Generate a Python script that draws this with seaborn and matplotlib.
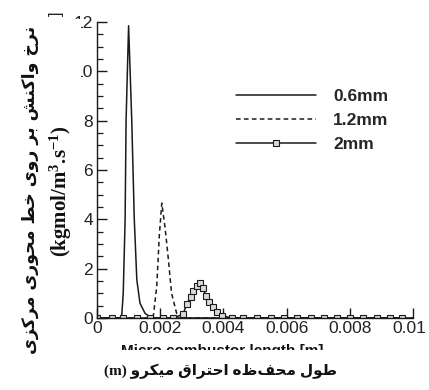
import numpy as np
import pandas as pd
import matplotlib
matplotlib.use("Agg")
import matplotlib.pyplot as plt
import matplotlib.transforms as mtransforms
from matplotlib.patches import Rectangle
from matplotlib.ticker import MultipleLocator, FixedLocator
import seaborn as sns

# ---- data: reaction rate along the combustor axis ----
x_06 = [0.0, 0.0007, 0.00078, 0.00083, 0.00089, 0.00092, 0.00100, 0.00110,
        0.00118, 0.00126, 0.00136, 0.00152, 0.00168, 0.0019, 0.01]
y_06 = [0.0, 0.0, 0.05, 1.0, 4.0, 8.0, 11.85, 8.0,
        4.0, 1.55, 0.6, 0.19, 0.04, 0.0, 0.0]

x_12 = [0.0, 0.0017, 0.00178, 0.00189, 0.00197, 0.00205, 0.00215, 0.00226,
        0.00236, 0.00252, 0.0028, 0.01]
y_12 = [0.0, 0.0, 0.05, 1.27, 3.3, 4.66, 3.71, 2.36,
        1.0, 0.19, 0.0, 0.0]

x_20 = [0.0, 0.00046, 0.00083, 0.00127, 0.00168, 0.00208, 0.00241, 0.00272,
        0.00284, 0.00296, 0.00305, 0.00315, 0.00326, 0.00336, 0.00345, 0.00355,
        0.00366, 0.00379, 0.00395, 0.00426, 0.00462, 0.00505, 0.0055, 0.00593,
        0.00632, 0.00676, 0.00718, 0.00759, 0.008, 0.00842, 0.00886, 0.00927,
        0.00964]
y_20 = [0.0, 0.0, 0.0, 0.0, 0.0, 0.0, 0.0, 0.15,
        0.55, 0.85, 1.1, 1.3, 1.42, 1.2, 0.88, 0.64,
        0.44, 0.25, 0.1, 0.0, 0.0, 0.0, 0.0, 0.0,
        0.0, 0.0, 0.0, 0.0, 0.0, 0.0, 0.0, 0.0,
        0.0]

series_labels = ["0.6mm", "1.2mm", "2mm"]
x_ticks = [0, 0.002, 0.004, 0.006, 0.008, 0.01]
x_tick_labels = ["0", "0.002", "0.004", "0.006", "0.008", "0.01"]
y_ticks = [0, 2, 4, 6, 8, 10, 12]
y_tick_labels = ["0", "2", "4", "6", "8", "10", "12"]

ylabel_fa = "نرخ واکنش بر روی خط محوری مرکزی"
ylabel_unit = r"(kgmol/m$^{\mathbf{3}}$.s$^{\mathbf{-1}}$)"
xlabel_en = "Micro combustor length [m]"
xlabel_fa = "طول محفظه احتراق میکرو"
xlabel_unit = "(m)"

# ---- minimal Persian shaping (presentation forms) + RTL ordering ----
FORMS = {  # isolated, final, initial, medial
    "ا": (0xFE8D, 0xFE8E, None, None),
    "ب": (0xFE8F, 0xFE90, 0xFE91, 0xFE92),
    "ت": (0xFE95, 0xFE96, 0xFE97, 0xFE98),
    "ح": (0xFEA1, 0xFEA2, 0xFEA3, 0xFEA4),
    "خ": (0xFEA5, 0xFEA6, 0xFEA7, 0xFEA8),
    "ر": (0xFEAD, 0xFEAE, None, None),
    "ز": (0xFEAF, 0xFEB0, None, None),
    "ش": (0xFEB5, 0xFEB6, 0xFEB7, 0xFEB8),
    "ط": (0xFEC1, 0xFEC2, 0xFEC3, 0xFEC4),
    "ف": (0xFED1, 0xFED2, 0xFED3, 0xFED4),
    "ق": (0xFED5, 0xFED6, 0xFED7, 0xFED8),
    "ل": (0xFEDD, 0xFEDE, 0xFEDF, 0xFEE0),
    "م": (0xFEE1, 0xFEE2, 0xFEE3, 0xFEE4),
    "ن": (0xFEE5, 0xFEE6, 0xFEE7, 0xFEE8),
    "ه": (0xFEE9, 0xFEEA, 0xFEEB, 0xFEEC),
    "و": (0xFEED, 0xFEEE, None, None),
    "ک": (0xFB8E, 0xFB8F, 0xFB90, 0xFB91),
    "ی": (0xFBFC, 0xFBFD, 0xFBFE, 0xFBFF),
}


def joins_forward(ch):
    return ch in FORMS and FORMS[ch][2] is not None


def rtl(text):
    out = []
    for i, ch in enumerate(text):
        if ch not in FORMS:
            out.append(ch)
            continue
        prev = text[i - 1] if i > 0 else ""
        nxt = text[i + 1] if i + 1 < len(text) else ""
        jp = joins_forward(prev)
        jn = joins_forward(ch) and nxt in FORMS
        iso, fin, ini, med = FORMS[ch]
        if jp and jn:
            code = med
        elif jp:
            code = fin
        elif jn:
            code = ini
        else:
            code = iso
        out.append(chr(code))
    return "".join(reversed(out))


# ---- figure ----
sns.set_theme(style="white")
plt.rcParams["font.family"] = ["Liberation Sans", "DejaVu Sans"]
plt.rcParams["mathtext.fontset"] = "custom"
plt.rcParams["mathtext.rm"] = "Liberation Serif:bold"
plt.rcParams["mathtext.bf"] = "Liberation Serif:bold"
plt.rcParams["mathtext.it"] = "Liberation Serif:bold"

W, H = 429, 390
fig = plt.figure(figsize=(W / 100, H / 100), dpi=100)
fig.patch.set_facecolor("white")
ax = fig.add_axes([97 / W, 1 - 318 / H, (413 - 97) / W, (318 - 22) / H])
ax.set_facecolor("white")

df06 = pd.DataFrame({"x": x_06, "y": y_06})
df12 = pd.DataFrame({"x": x_12, "y": y_12})
df20 = pd.DataFrame({"x": x_20, "y": y_20})

lc = "#1a1a1a"
sns.lineplot(data=df06, x="x", y="y", ax=ax, color=lc, lw=1.1,
             label=series_labels[0], sort=False, estimator=None)
sns.lineplot(data=df12, x="x", y="y", ax=ax, color=lc, lw=1.1,
             dashes=False, label=series_labels[1], sort=False, estimator=None)
ax.lines[-1].set_linestyle((0, (3.0, 2.2)))
sns.lineplot(data=df20, x="x", y="y", ax=ax, color=lc, lw=1.1,
             marker="s", markersize=4, markerfacecolor="#d9d9d9",
             markeredgecolor=lc, markeredgewidth=0.8,
             label=series_labels[2], sort=False, estimator=None)

ax.set_xlim(0, 0.01)
ax.set_ylim(0, 12)
ax.set_xlabel("")
ax.set_ylabel("")

for s in ["top", "right"]:
    ax.spines[s].set_visible(False)
for s in ["left", "bottom"]:
    ax.spines[s].set_color(lc)
    ax.spines[s].set_linewidth(1.0)

ax.xaxis.set_major_locator(FixedLocator(x_ticks))
ax.set_xticklabels(x_tick_labels)
ax.yaxis.set_major_locator(FixedLocator(y_ticks))
ax.set_yticklabels(y_tick_labels)
ax.yaxis.set_minor_locator(MultipleLocator(0.5))
ax.tick_params(axis="both", which="major", direction="in", length=7,
               width=1.0, color=lc, labelsize=12.5, labelcolor="#222222")
ax.tick_params(axis="y", which="minor", direction="in", length=4,
               width=0.9, color=lc, left=True)
ax.tick_params(axis="x", which="major", pad=2, bottom=True)
ax.tick_params(axis="y", which="major", pad=3, left=True)

# keep the last x label inside the canvas
last = ax.get_xticklabels()[-1]
last.set_transform(last.get_transform() +
                   mtransforms.ScaledTranslation(-3 / 72, 0, fig.dpi_scale_trans))

leg = ax.legend(loc="upper left", bbox_to_anchor=((236 - 97) / (413 - 97), (318 - 89) / (318 - 22)),
                frameon=False, handlelength=4.6, handletextpad=1.0,
                borderpad=0, borderaxespad=0, labelspacing=0.5, numpoints=1,
                prop={"family": "Liberation Sans", "weight": "bold", "size": 12.5})

# English axis caption (partly hidden under the Persian caption band)
fig.text(222 / W, 1 - 344 / H, xlabel_en, ha="center", va="top",
         fontsize=11, fontweight="bold", color="#111111", zorder=2)
# small bracket remnant at top-left
fig.text(56 / W, 1 - 11 / H, "]", rotation=90, ha="center", va="top",
         fontsize=12, color="#222222", zorder=2)

# white bands carrying the Persian captions
fig.add_artist(Rectangle((0, 0), 81 / W, 1 - 19 / H, transform=fig.transFigure,
                         facecolor="white", edgecolor="none", zorder=5))
fig.add_artist(Rectangle((0, 0), 1, 1 - 350 / H, transform=fig.transFigure,
                         facecolor="white", edgecolor="none", zorder=5))

fig.text(30 / W, 1 - 190 / H, rtl(ylabel_fa), rotation=90, ha="center", va="center",
         fontsize=12.5, fontweight="bold", family=["DejaVu Sans"], color="#111111", zorder=6)
fig.text(61 / W, 1 - 191 / H, ylabel_unit, rotation=90, ha="center", va="center",
         fontsize=15, fontweight="bold", family=["Liberation Serif"], color="#111111", zorder=6)
fig.text(221 / W, 1 - 371 / H, xlabel_unit + " " + rtl(xlabel_fa), ha="center", va="center",
         fontsize=11, fontweight="bold", family=["Liberation Serif", "DejaVu Sans"],
         color="#111111", zorder=6)

fig.savefig("out.png", dpi=100, facecolor="white")
